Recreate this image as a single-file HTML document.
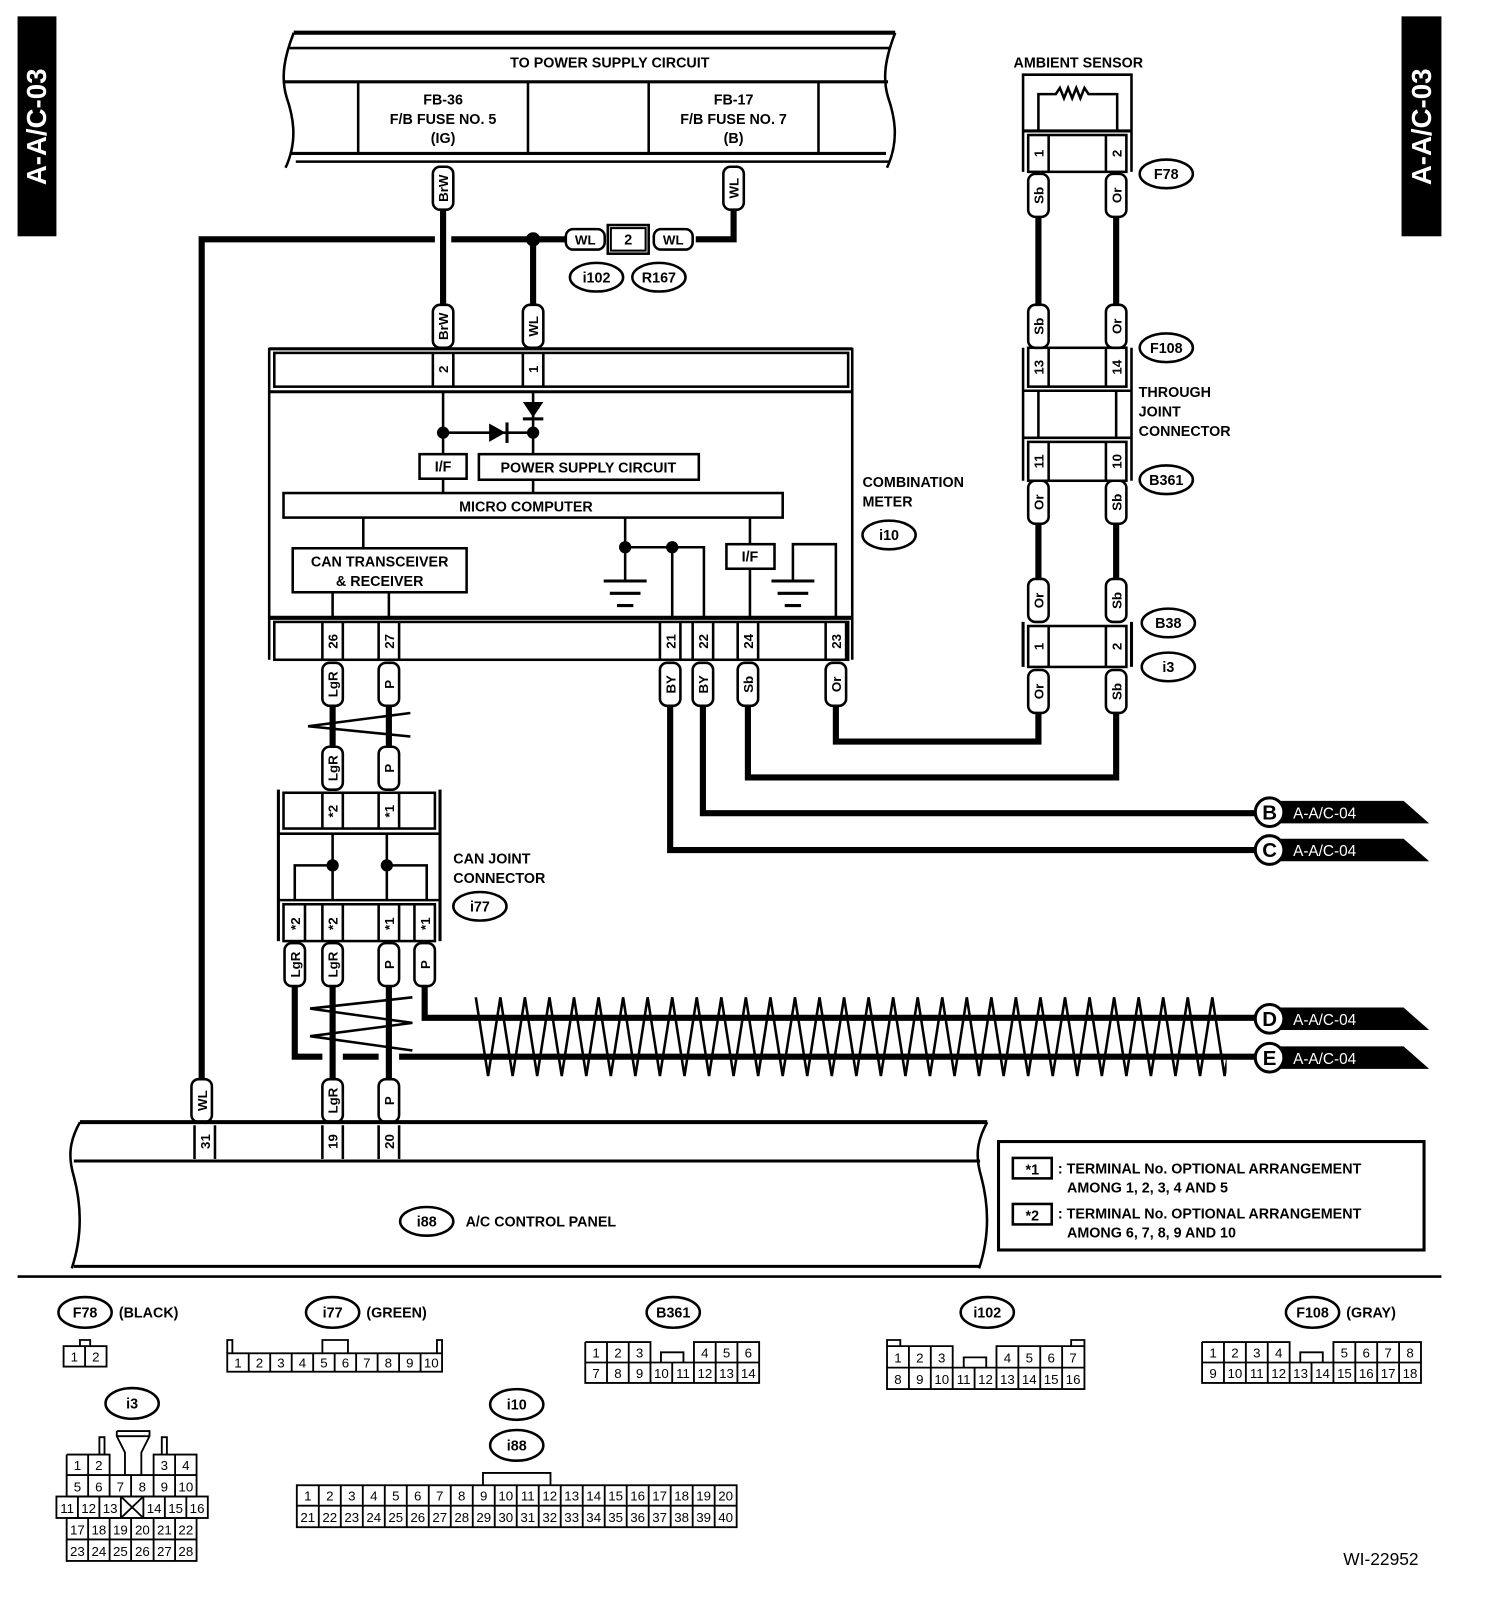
<!DOCTYPE html>
<html><head><meta charset="utf-8"><style>
html,body{margin:0;padding:0;background:#fff}
svg{display:block}
text{font-family:"Liberation Sans",sans-serif;font-weight:bold;fill:#000}
.t{font-size:14px}
.n{font-size:13px;font-weight:normal;text-anchor:middle}
.c{text-anchor:middle}
.w{font-size:13px;text-anchor:middle}
</style></head><body>
<svg width="1504" height="1608" viewBox="0 0 1470 1572" xmlns="http://www.w3.org/2000/svg">
<defs>
<g id="pill"><rect x="-10" y="0" width="20" height="42" rx="7" fill="#fff" stroke="#000" stroke-width="2.5"/></g>
<g id="hpill"><rect x="0" y="-10" width="38" height="20" rx="7" fill="#fff" stroke="#000" stroke-width="2.5"/></g>
<clipPath id="zz"><rect x="460" y="960" width="739" height="100"/></clipPath>
</defs>
<rect width="1470" height="1572" fill="#fff"/>
<rect x="17" y="16" width="38" height="215" fill="#000"/>
<text transform="translate(45,124) rotate(-90)" class="c" style="font-size:27px;fill:#fff">A-A/C-03</text>
<rect x="1370" y="16" width="39" height="215" fill="#000"/>
<text transform="translate(1399,124) rotate(-90)" class="c" style="font-size:27px;fill:#fff">A-A/C-03</text>

<g fill="none" stroke="#000" stroke-width="2.5">
<path d="M287,32 H875" stroke-width="4"/>
<path d="M283,47 H870"/>
<path d="M278,80 H868" stroke-width="3"/>
<path d="M284,150 H866" stroke-width="3"/>
<path d="M289,158 H870"/>
<path d="M287,32 C278,55 274,75 280,95 C288,118 290,140 279,164"/>
<path d="M875,32 C866,55 862,75 868,95 C876,118 878,140 867,164"/>
<path d="M350,80 V150 M516,80 V150 M634,80 V150 M800,80 V150"/>
</g>
<text x="596" y="66" class="t c">TO POWER SUPPLY CIRCUIT</text>
<text x="433" y="102" class="t c">FB-36</text><text x="433" y="121" class="t c">F/B FUSE NO. 5</text><text x="433" y="140" class="t c">(IG)</text>
<text x="717" y="102" class="t c">FB-17</text><text x="717" y="121" class="t c">F/B FUSE NO. 7</text><text x="717" y="140" class="t c">(B)</text>

<g fill="none" stroke="#000" stroke-width="6">
<path d="M433,205 V298"/>
<path d="M717,205 V234 H680"/>
<path d="M197,1055 V234 H425 M441,234 H553"/>
<path d="M521,234 V298"/>
<path d="M1015,212 V298 M1091,212 V298 M1015,512 V566 M1091,512 V566"/>
<path d="M817,690 V725 H1015 V697"/>
<path d="M731,690 V760 H1091 V697"/>
<path d="M687,690 V795 H1228"/>
<path d="M655,690 V831 H1228"/>
<path d="M325,690 V730 M380,690 V730"/>
<path d="M325,964 V1055 M380,964 V1055"/>
<path d="M415,964 V995 H1228"/>
<path d="M288,964 V1033 H315 M335,1033 H370 M390,1033 H1228"/>
</g>
<circle cx="521" cy="234" r="7"/>
<rect x="594" y="220" width="40" height="28" fill="#fff" stroke="#000" stroke-width="2.5"/>
<rect x="597" y="223" width="34" height="22" fill="#fff" stroke="#000" stroke-width="2"/>
<text x="614" y="239" class="t c">2</text>
<use href="#hpill" x="553" y="234"/><text x="572" y="239" class="w">WL</text>
<use href="#hpill" x="639" y="234"/><text x="658" y="239" class="w">WL</text>
<ellipse cx="583" cy="271" rx="26" ry="14" fill="#fff" stroke="#000" stroke-width="2.5"/><text x="583" y="276" class="t c">i102</text>
<ellipse cx="644" cy="271" rx="26" ry="14" fill="#fff" stroke="#000" stroke-width="2.5"/><text x="644" y="276" class="t c">R167</text>

<use href="#pill" x="433" y="163"/><text transform="translate(438,184) rotate(-90)" class="w">BrW</text>
<use href="#pill" x="717" y="163"/><text transform="translate(722,184) rotate(-90)" class="w">WL</text>
<use href="#pill" x="433" y="298"/><text transform="translate(438,319) rotate(-90)" class="w">BrW</text>
<use href="#pill" x="521" y="298"/><text transform="translate(526,319) rotate(-90)" class="w">WL</text>

<g fill="none" stroke="#000" stroke-width="2.5">
<path d="M263,340 V645 M833,340 V645"/>
<path d="M263,341 H833 M263,383 H833" stroke-width="3"/>
<rect x="268" y="345" width="561" height="33"/>
<path d="M423,345 V378 M443,345 V378 M511,345 V378 M531,345 V378"/>
<path d="M263,604 H833" stroke-width="4"/>
<rect x="268" y="608" width="561" height="37"/>
<path d="M315,608 V645 M335,608 V645 M370,608 V645 M390,608 V645 M645,608 V645 M665,608 V645 M677,608 V645 M697,608 V645 M721,608 V645 M741,608 V645 M807,608 V645 M827,608 V645"/>
<path d="M433,383 V444 M433,468 V482 M521,383 V444 M521,469 V482 M433,423 H521"/>
<rect x="410" y="444" width="46" height="24"/>
<rect x="468" y="444" width="215" height="25"/>
<rect x="277" y="482" width="488" height="24"/>
<rect x="286" y="536" width="170" height="43"/>
<path d="M355,506 V536 M325,579 V604 M380,579 V604"/>
<path d="M611,506 V568 M611,535 H688 V604 M657,535 V604"/>
<path d="M590,568 H632 M596,580 H626 M603,592 H619" stroke-width="3"/>
<path d="M733,506 V532 M733,556 V604"/>
<rect x="710" y="532" width="47" height="24"/>
<path d="M775,568 V532 H817 V604"/>
<path d="M754,568 H796 M760,580 H790 M767,592 H783" stroke-width="3"/>
</g>
<polygon points="478,414 478,432 494,423" fill="#000"/><rect x="494" y="413" width="3" height="20"/>
<polygon points="511,393 531,393 521,408" fill="#000"/><rect x="511" y="408" width="20" height="3"/>
<circle cx="433" cy="423" r="6"/><circle cx="521" cy="423" r="6"/>
<circle cx="611" cy="535" r="6"/><circle cx="657" cy="535" r="6"/>
<text transform="translate(438,361) rotate(-90)" class="w">2</text>
<text transform="translate(526,361) rotate(-90)" class="w">1</text>
<text x="433" y="461" class="t c">I/F</text>
<text x="575" y="462" class="t c">POWER SUPPLY CIRCUIT</text>
<text x="514" y="500" class="t c">MICRO COMPUTER</text>
<text x="371" y="554" class="t c">CAN TRANSCEIVER</text><text x="371" y="573" class="t c">&amp; RECEIVER</text>
<text x="733" y="549" class="t c">I/F</text>
<text transform="translate(330,627) rotate(-90)" class="w">26</text>
<text transform="translate(385,627) rotate(-90)" class="w">27</text>
<text transform="translate(660,627) rotate(-90)" class="w">21</text>
<text transform="translate(692,627) rotate(-90)" class="w">22</text>
<text transform="translate(736,627) rotate(-90)" class="w">24</text>
<text transform="translate(822,627) rotate(-90)" class="w">23</text>
<text x="843" y="476" class="t">COMBINATION</text><text x="843" y="495" class="t">METER</text>
<ellipse cx="869" cy="523" rx="26" ry="14" fill="#fff" stroke="#000" stroke-width="2.5"/><text x="869" y="528" class="t c">i10</text>

<use href="#pill" x="325" y="648"/><text transform="translate(330,669) rotate(-90)" class="w">LgR</text>
<use href="#pill" x="380" y="648"/><text transform="translate(385,669) rotate(-90)" class="w">P</text>
<use href="#pill" x="655" y="648"/><text transform="translate(660,669) rotate(-90)" class="w">BY</text>
<use href="#pill" x="687" y="648"/><text transform="translate(692,669) rotate(-90)" class="w">BY</text>
<use href="#pill" x="731" y="648"/><text transform="translate(736,669) rotate(-90)" class="w">Sb</text>
<use href="#pill" x="817" y="648"/><text transform="translate(822,669) rotate(-90)" class="w">Or</text>
<path d="M401,697 L301,710 L401,720" fill="none" stroke="#000" stroke-width="2.5"/>
<use href="#pill" x="325" y="730"/><text transform="translate(330,751) rotate(-90)" class="w">LgR</text>
<use href="#pill" x="380" y="730"/><text transform="translate(385,751) rotate(-90)" class="w">P</text>

<g fill="none" stroke="#000" stroke-width="2.5">
<path d="M272,772 V920 M430,772 V920" stroke-width="3"/>
<rect x="277" y="775" width="148" height="35"/>
<path d="M315,775 V810 M335,775 V810 M370,775 V810 M390,775 V810"/>
<path d="M272,815 H430 M272,880 H430"/>
<path d="M325,815 V880 M378,815 V880 M288,880 V846 H325 M378,846 H417 V880"/>
<rect x="277" y="884" width="148" height="36"/>
<path d="M298,884 V920 M315,884 V920 M335,884 V920 M370,884 V920 M390,884 V920 M405,884 V920"/>
</g>
<circle cx="325" cy="846" r="6"/><circle cx="378" cy="846" r="6"/>
<text transform="translate(330,793) rotate(-90)" class="w">*2</text>
<text transform="translate(385,793) rotate(-90)" class="w">*1</text>
<text transform="translate(293,903) rotate(-90)" class="w">*2</text>
<text transform="translate(330,903) rotate(-90)" class="w">*2</text>
<text transform="translate(385,903) rotate(-90)" class="w">*1</text>
<text transform="translate(420,903) rotate(-90)" class="w">*1</text>
<text x="443" y="844" class="t">CAN JOINT</text><text x="443" y="863" class="t">CONNECTOR</text>
<ellipse cx="469" cy="886" rx="26" ry="14" fill="#fff" stroke="#000" stroke-width="2.5"/><text x="469" y="891" class="t c">i77</text>
<use href="#pill" x="288" y="922"/><text transform="translate(293,943) rotate(-90)" class="w">LgR</text>
<use href="#pill" x="325" y="922"/><text transform="translate(330,943) rotate(-90)" class="w">LgR</text>
<use href="#pill" x="380" y="922"/><text transform="translate(385,943) rotate(-90)" class="w">P</text>
<use href="#pill" x="415" y="922"/><text transform="translate(420,943) rotate(-90)" class="w">P</text>
<path d="M403,975 L303,986 L403,1000 L303,1013 L403,1027" fill="none" stroke="#000" stroke-width="2.5"/>
<path clip-path="url(#zz)" d="M465,975 l12,77 12,-77 12,77 12,-77 12,77 12,-77 12,77 12,-77 12,77 12,-77 12,77 12,-77 12,77 12,-77 12,77 12,-77 12,77 12,-77 12,77 12,-77 12,77 12,-77 12,77 12,-77 12,77 12,-77 12,77 12,-77 12,77 12,-77 12,77 12,-77 12,77 12,-77 12,77 12,-77 12,77 12,-77 12,77 12,-77 12,77 12,-77 12,77 12,-77 12,77 12,-77 12,77 12,-77 12,77 12,-77 12,77 12,-77 12,77 12,-77 12,77 12,-77 12,77 12,-77 12,77 12,-77 12,77 12,-77 12,77 12,-77 12,77 12,-77 12,77 12,-77 12,77 12,-77 12,77" fill="none" stroke="#000" stroke-width="2.5"/>

<g>
<path d="M1241,783 H1372 L1397,805 H1241 Z"/><circle cx="1241" cy="794" r="14" fill="#fff" stroke="#000" stroke-width="3"/><text x="1241" y="801" class="c" style="font-size:20px">B</text><text x="1264" y="800" style="font-size:15px;fill:#fff;font-weight:normal">A-A/C-04</text>
<path d="M1241,820 H1372 L1397,842 H1241 Z"/><circle cx="1241" cy="831" r="14" fill="#fff" stroke="#000" stroke-width="3"/><text x="1241" y="838" class="c" style="font-size:20px">C</text><text x="1264" y="837" style="font-size:15px;fill:#fff;font-weight:normal">A-A/C-04</text>
<path d="M1241,985 H1372 L1397,1007 H1241 Z"/><circle cx="1241" cy="996" r="14" fill="#fff" stroke="#000" stroke-width="3"/><text x="1241" y="1003" class="c" style="font-size:20px">D</text><text x="1264" y="1002" style="font-size:15px;fill:#fff;font-weight:normal">A-A/C-04</text>
<path d="M1241,1023 H1372 L1397,1045 H1241 Z"/><circle cx="1241" cy="1034" r="14" fill="#fff" stroke="#000" stroke-width="3"/><text x="1241" y="1041" class="c" style="font-size:20px">E</text><text x="1264" y="1040" style="font-size:15px;fill:#fff;font-weight:normal">A-A/C-04</text>
</g>

<text x="1054" y="66" class="t c">AMBIENT SENSOR</text>
<g fill="none" stroke="#000" stroke-width="2.5">
<path d="M1000,168 V73 H1106 V168"/>
<path d="M1015,128 V92 H1032 l4,-6 4,10 4,-10 4,10 4,-10 4,10 4,-10 4,6 H1092 V128"/>
<path d="M1000,128 H1106" stroke-width="3"/>
<rect x="1005" y="132" width="96" height="36"/>
<path d="M1025,132 V168 M1081,132 V168"/>
<path d="M1000,340 V470 M1106,340 V470"/>
<rect x="1005" y="340" width="96" height="38"/>
<path d="M1025,340 V378 M1081,340 V378"/>
<path d="M1000,382 H1106 M1000,428 H1106"/>
<path d="M1015,382 V428 M1091,382 V428"/>
<rect x="1005" y="432" width="96" height="38"/>
<path d="M1025,432 V470 M1081,432 V470"/>
<path d="M1000,608 V652 M1106,608 V652" stroke-width="3"/>
<rect x="1005" y="612" width="96" height="40"/>
<path d="M1025,612 V652 M1081,612 V652"/>
</g>
<text transform="translate(1020,150) rotate(-90)" class="w">1</text>
<text transform="translate(1096,150) rotate(-90)" class="w">2</text>
<text transform="translate(1020,359) rotate(-90)" class="w">13</text>
<text transform="translate(1096,359) rotate(-90)" class="w">14</text>
<text transform="translate(1020,451) rotate(-90)" class="w">11</text>
<text transform="translate(1096,451) rotate(-90)" class="w">10</text>
<text transform="translate(1020,632) rotate(-90)" class="w">1</text>
<text transform="translate(1096,632) rotate(-90)" class="w">2</text>
<use href="#pill" x="1015" y="170"/><text transform="translate(1020,191) rotate(-90)" class="w">Sb</text>
<use href="#pill" x="1091" y="170"/><text transform="translate(1096,191) rotate(-90)" class="w">Or</text>
<use href="#pill" x="1015" y="298"/><text transform="translate(1020,319) rotate(-90)" class="w">Sb</text>
<use href="#pill" x="1091" y="298"/><text transform="translate(1096,319) rotate(-90)" class="w">Or</text>
<use href="#pill" x="1015" y="470"/><text transform="translate(1020,491) rotate(-90)" class="w">Or</text>
<use href="#pill" x="1091" y="470"/><text transform="translate(1096,491) rotate(-90)" class="w">Sb</text>
<use href="#pill" x="1015" y="566"/><text transform="translate(1020,587) rotate(-90)" class="w">Or</text>
<use href="#pill" x="1091" y="566"/><text transform="translate(1096,587) rotate(-90)" class="w">Sb</text>
<use href="#pill" x="1015" y="655"/><text transform="translate(1020,676) rotate(-90)" class="w">Or</text>
<use href="#pill" x="1091" y="655"/><text transform="translate(1096,676) rotate(-90)" class="w">Sb</text>
<g fill="#fff" stroke="#000" stroke-width="2.5">
<ellipse cx="1140" cy="170" rx="26" ry="14"/><ellipse cx="1140" cy="340" rx="26" ry="14"/><ellipse cx="1140" cy="469" rx="26" ry="14"/><ellipse cx="1142" cy="609" rx="26" ry="14"/><ellipse cx="1142" cy="652" rx="26" ry="14"/>
</g>
<text x="1140" y="175" class="t c">F78</text><text x="1140" y="345" class="t c">F108</text><text x="1140" y="474" class="t c">B361</text><text x="1142" y="614" class="t c">B38</text><text x="1142" y="657" class="t c">i3</text>
<text x="1113" y="388" class="t">THROUGH</text><text x="1113" y="407" class="t">JOINT</text><text x="1113" y="426" class="t">CONNECTOR</text>

<use href="#pill" x="197" y="1055"/><text transform="translate(202,1076) rotate(-90)" class="w">WL</text>
<use href="#pill" x="325" y="1055"/><text transform="translate(330,1076) rotate(-90)" class="w">LgR</text>
<use href="#pill" x="380" y="1055"/><text transform="translate(385,1076) rotate(-90)" class="w">P</text>
<g fill="none" stroke="#000" stroke-width="2.5">
<path d="M78,1097 H965" stroke-width="4"/>
<path d="M72,1135 H958 M72,1238 H958" stroke-width="3"/>
<path d="M78,1097 C68,1115 66,1130 72,1150 C80,1180 80,1210 70,1240"/>
<path d="M965,1097 C955,1115 953,1130 959,1150 C967,1180 967,1210 957,1240"/>
<path d="M190,1100 V1133 M210,1100 V1133 M315,1100 V1133 M335,1100 V1133 M370,1100 V1133 M390,1100 V1133"/>
<rect x="976" y="1116" width="416" height="106" stroke-width="3"/>
<rect x="990" y="1132" width="38" height="20"/>
<rect x="990" y="1177" width="38" height="20"/>
<path d="M17,1248 H1409"/>
</g>
<text transform="translate(205,1116) rotate(-90)" class="w">31</text>
<text transform="translate(330,1116) rotate(-90)" class="w">19</text>
<text transform="translate(385,1116) rotate(-90)" class="w">20</text>
<ellipse cx="417" cy="1194" rx="26" ry="14" fill="#fff" stroke="#000" stroke-width="2.5"/><text x="417" y="1199" class="t c">i88</text>
<text x="455" y="1199" class="t">A/C CONTROL PANEL</text>
<text x="1009" y="1148" class="t c">*1</text><text x="1009" y="1193" class="t c">*2</text>
<text x="1034" y="1147" class="t">: TERMINAL No. OPTIONAL ARRANGEMENT</text>
<text x="1043" y="1166" class="t">AMONG 1, 2, 3, 4 AND 5</text>
<text x="1034" y="1191" class="t">: TERMINAL No. OPTIONAL ARRANGEMENT</text>
<text x="1043" y="1210" class="t">AMONG 6, 7, 8, 9 AND 10</text>

<g fill="#fff" stroke="#000" stroke-width="2.5">
<ellipse cx="83" cy="1283" rx="26" ry="15"/><ellipse cx="325" cy="1283" rx="26" ry="15"/><ellipse cx="658" cy="1283" rx="26" ry="15"/><ellipse cx="965" cy="1283" rx="26" ry="15"/><ellipse cx="1283" cy="1283" rx="26" ry="15"/><ellipse cx="129" cy="1372" rx="26" ry="15"/><ellipse cx="505" cy="1373" rx="26" ry="15"/><ellipse cx="505" cy="1413" rx="26" ry="15"/>
</g>
<text x="83" y="1288" class="t c">F78</text><text x="116" y="1288" class="t">(BLACK)</text>
<text x="325" y="1288" class="t c">i77</text><text x="358" y="1288" class="t">(GREEN)</text>
<text x="658" y="1288" class="t c">B361</text>
<text x="965" y="1288" class="t c">i102</text>
<text x="1283" y="1288" class="t c">F108</text><text x="1316" y="1288" class="t">(GRAY)</text>
<text x="129" y="1377" class="t c">i3</text>
<text x="505" y="1378" class="t c">i10</text><text x="505" y="1418" class="t c">i88</text>
<text x="1313" y="1530" style="font-size:17px;font-weight:normal">WI-22952</text>

<g fill="none" stroke="#000" stroke-width="1.8">
<rect x="62" y="1316" width="42" height="20"/><path d="M83,1316 V1336 M78,1316 V1310 H88 V1316"/>
<rect x="222" y="1323" width="210" height="18"/>
<path d="M243,1323 v18 M264,1323 v18 M285,1323 v18 M306,1323 v18 M327,1323 v18 M348,1323 v18 M369,1323 v18 M390,1323 v18 M411,1323 v18"/>
<path d="M222,1323 V1310 H227 V1323 M432,1323 V1310 H427 V1323 M315,1323 V1310 H340 V1323"/>
<path d="M572,1312 H635.75 V1332 M678.25,1332 V1312 H742 V1352 H572 V1312 M572,1332 H742 M646,1332 V1322 H668 V1332"/>
<path d="M593.25,1312 V1352 M614.5,1312 V1352 M635.75,1332 V1352 M657,1332 V1352 M678.25,1332 V1352 M699.5,1312 V1352 M720.75,1312 V1352"/>
<path d="M867,1316 H931.2 V1337 M974,1337 V1316 H1060 V1358 H867 V1316 M867,1337 H1060 M942,1337 V1327 H964 V1337 M867,1316 V1310 H880 V1316 M1047,1316 V1310 H1060 V1316"/>
<path d="M888.4,1316 V1358 M909.8,1316 V1358 M931.2,1337 V1358 M952.6,1337 V1358 M974,1337 V1358 M995.4,1316 V1358 M1016.8,1316 V1358 M1038.2,1316 V1358"/>
<path d="M1175,1312 H1260.6 V1332 M1303.4,1332 V1312 H1389 V1352 H1175 V1312 M1175,1332 H1389 M1271,1332 V1322 H1293 V1332"/>
<path d="M1196.4,1312 V1352 M1217.8,1312 V1352 M1239.2,1312 V1352 M1260.6,1332 V1352 M1282,1332 V1352 M1303.4,1332 V1352 M1324.8,1312 V1352 M1346.2,1312 V1352 M1367.6,1312 V1352"/>
<rect x="290" y="1452" width="430" height="41"/>
<path d="M290,1472 H720 M472,1452 V1440 H538 V1452"/>
<path d="M311.5,1452 v41 M333,1452 v41 M354.5,1452 v41 M376,1452 v41 M397.5,1452 v41 M419,1452 v41 M440.5,1452 v41 M462,1452 v41 M483.5,1452 v41 M505,1452 v41 M526.5,1452 v41 M548,1452 v41 M569.5,1452 v41 M591,1452 v41 M612.5,1452 v41 M634,1452 v41 M655.5,1452 v41 M677,1452 v41 M698.5,1452 v41"/>
<path d="M65,1422 H107 V1442 M65,1422 V1463 M86,1422 V1442 M150,1442 V1422 H192 V1463 M171,1422 V1442"/>
<path d="M65,1442 H192 M65,1463 H192 M86,1442 V1463 M107,1442 V1463 M128,1442 V1463 M150,1442 V1463 M171,1442 V1463"/>
<rect x="55" y="1463" width="148" height="21"/>
<path d="M76,1463 v21 M97,1463 v21 M118,1463 v21 M140,1463 v21 M161,1463 v21 M182,1463 v21 M118,1463 L140,1484 M140,1463 L118,1484"/>
<rect x="65" y="1484" width="127" height="42"/><path d="M65,1505 H192 M86,1484 v42 M107,1484 v42 M128,1484 v42 M150,1484 v42 M171,1484 v42"/>
<path d="M114,1399 H146 V1404 L138,1420 V1442 M114,1399 V1404 L122,1420 V1442 M114,1404 H146"/>
<path d="M97,1422 V1405 H102 V1422 M158,1422 V1405 H163 V1422"/>
</g>
<g>
<text x="72.5" y="1331" class="n">1</text><text x="93.5" y="1331" class="n">2</text>
<text x="232.5" y="1337" class="n">1</text><text x="253.5" y="1337" class="n">2</text><text x="274.5" y="1337" class="n">3</text><text x="295.5" y="1337" class="n">4</text><text x="316.5" y="1337" class="n">5</text><text x="337.5" y="1337" class="n">6</text><text x="358.5" y="1337" class="n">7</text><text x="379.5" y="1337" class="n">8</text><text x="400.5" y="1337" class="n">9</text><text x="421.5" y="1337" class="n">10</text>
<text x="582.6" y="1327" class="n">1</text><text x="603.9" y="1327" class="n">2</text><text x="625.1" y="1327" class="n">3</text><text x="688.9" y="1327" class="n">4</text><text x="710.1" y="1327" class="n">5</text><text x="731.4" y="1327" class="n">6</text>
<text x="582.6" y="1347" class="n">7</text><text x="603.9" y="1347" class="n">8</text><text x="625.1" y="1347" class="n">9</text><text x="646.4" y="1347" class="n">10</text><text x="667.6" y="1347" class="n">11</text><text x="688.9" y="1347" class="n">12</text><text x="710.1" y="1347" class="n">13</text><text x="731.4" y="1347" class="n">14</text>
<text x="877.7" y="1332" class="n">1</text><text x="899.1" y="1332" class="n">2</text><text x="920.5" y="1332" class="n">3</text><text x="984.7" y="1332" class="n">4</text><text x="1006.1" y="1332" class="n">5</text><text x="1027.5" y="1332" class="n">6</text><text x="1048.9" y="1332" class="n">7</text>
<text x="877.7" y="1353" class="n">8</text><text x="899.1" y="1353" class="n">9</text><text x="920.5" y="1353" class="n">10</text><text x="941.9" y="1353" class="n">11</text><text x="963.3" y="1353" class="n">12</text><text x="984.7" y="1353" class="n">13</text><text x="1006.1" y="1353" class="n">14</text><text x="1027.5" y="1353" class="n">15</text><text x="1048.9" y="1353" class="n">16</text>
<text x="1185.7" y="1327" class="n">1</text><text x="1207.1" y="1327" class="n">2</text><text x="1228.5" y="1327" class="n">3</text><text x="1249.9" y="1327" class="n">4</text><text x="1314.1" y="1327" class="n">5</text><text x="1335.5" y="1327" class="n">6</text><text x="1356.9" y="1327" class="n">7</text><text x="1378.3" y="1327" class="n">8</text>
<text x="1185.7" y="1347" class="n">9</text><text x="1207.1" y="1347" class="n">10</text><text x="1228.5" y="1347" class="n">11</text><text x="1249.9" y="1347" class="n">12</text><text x="1271.3" y="1347" class="n">13</text><text x="1292.7" y="1347" class="n">14</text><text x="1314.1" y="1347" class="n">15</text><text x="1335.5" y="1347" class="n">16</text><text x="1356.9" y="1347" class="n">17</text><text x="1378.3" y="1347" class="n">18</text>
<text x="300.75" y="1467" class="n">1</text><text x="322.25" y="1467" class="n">2</text><text x="343.75" y="1467" class="n">3</text><text x="365.25" y="1467" class="n">4</text><text x="386.75" y="1467" class="n">5</text><text x="408.25" y="1467" class="n">6</text><text x="429.75" y="1467" class="n">7</text><text x="451.25" y="1467" class="n">8</text><text x="472.75" y="1467" class="n">9</text><text x="494.25" y="1467" class="n">10</text><text x="515.75" y="1467" class="n">11</text><text x="537.25" y="1467" class="n">12</text><text x="558.75" y="1467" class="n">13</text><text x="580.25" y="1467" class="n">14</text><text x="601.75" y="1467" class="n">15</text><text x="623.25" y="1467" class="n">16</text><text x="644.75" y="1467" class="n">17</text><text x="666.25" y="1467" class="n">18</text><text x="687.75" y="1467" class="n">19</text><text x="709.25" y="1467" class="n">20</text>
<text x="300.75" y="1488" class="n">21</text><text x="322.25" y="1488" class="n">22</text><text x="343.75" y="1488" class="n">23</text><text x="365.25" y="1488" class="n">24</text><text x="386.75" y="1488" class="n">25</text><text x="408.25" y="1488" class="n">26</text><text x="429.75" y="1488" class="n">27</text><text x="451.25" y="1488" class="n">28</text><text x="472.75" y="1488" class="n">29</text><text x="494.25" y="1488" class="n">30</text><text x="515.75" y="1488" class="n">31</text><text x="537.25" y="1488" class="n">32</text><text x="558.75" y="1488" class="n">33</text><text x="580.25" y="1488" class="n">34</text><text x="601.75" y="1488" class="n">35</text><text x="623.25" y="1488" class="n">36</text><text x="644.75" y="1488" class="n">37</text><text x="666.25" y="1488" class="n">38</text><text x="687.75" y="1488" class="n">39</text><text x="709.25" y="1488" class="n">40</text>
<text x="75.5" y="1437" class="n">1</text><text x="96.5" y="1437" class="n">2</text><text x="160.5" y="1437" class="n">3</text><text x="181.5" y="1437" class="n">4</text>
<text x="75.5" y="1458" class="n">5</text><text x="96.5" y="1458" class="n">6</text><text x="117.5" y="1458" class="n">7</text><text x="139" y="1458" class="n">8</text><text x="160.5" y="1458" class="n">9</text><text x="181.5" y="1458" class="n">10</text>
<text x="65.5" y="1479" class="n">11</text><text x="86.5" y="1479" class="n">12</text><text x="107.5" y="1479" class="n">13</text><text x="150.5" y="1479" class="n">14</text><text x="171.5" y="1479" class="n">15</text><text x="192.5" y="1479" class="n">16</text>
<text x="75.5" y="1500" class="n">17</text><text x="96.5" y="1500" class="n">18</text><text x="117.5" y="1500" class="n">19</text><text x="139" y="1500" class="n">20</text><text x="160.5" y="1500" class="n">21</text><text x="181.5" y="1500" class="n">22</text>
<text x="75.5" y="1521" class="n">23</text><text x="96.5" y="1521" class="n">24</text><text x="117.5" y="1521" class="n">25</text><text x="139" y="1521" class="n">26</text><text x="160.5" y="1521" class="n">27</text><text x="181.5" y="1521" class="n">28</text>
</g>
</svg>
</body></html>
